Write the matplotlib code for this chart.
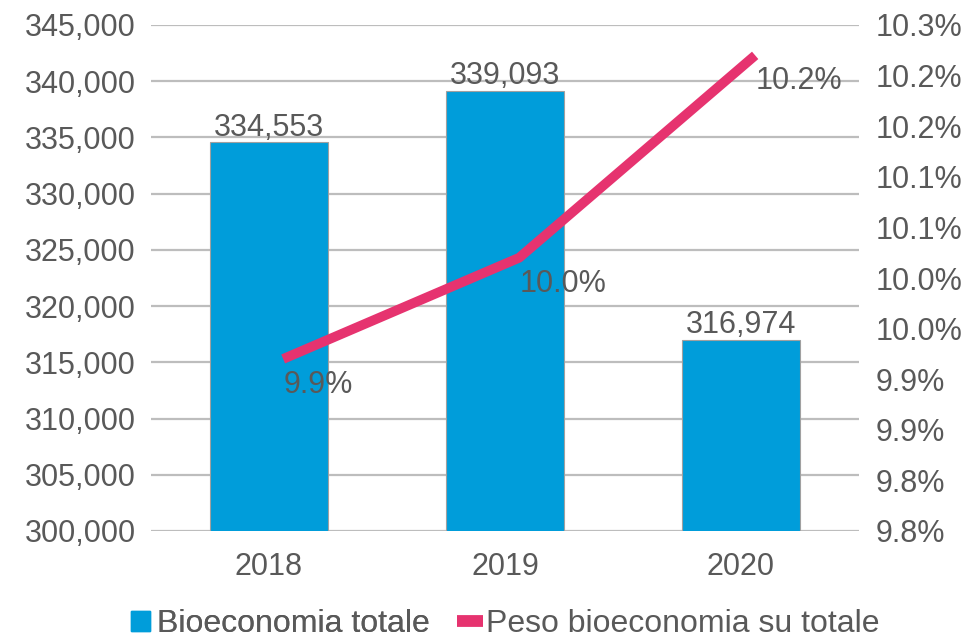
import numpy as np
import matplotlib.pyplot as plt
from matplotlib.patches import Patch
from matplotlib.lines import Line2D
from matplotlib.ticker import FuncFormatter

# ── Dati ──────────────────────────────────────────────────────────────────
anni     = ["2018", "2019", "2020"]
totale   = [334553, 339093, 316974]        # bioeconomia totale
peso     = [9.92, 10.02, 10.22]            # peso % su totale
peso_lbl = ["9.9%", "10.0%", "10.2%"]

BLU    = "#009DDA"
ROSA   = "#E6336F"
GRIGIO = "#595959"
GRID   = "#BDBDBD"
FS     = 22

plt.rcParams["font.family"] = ["Liberation Sans", "DejaVu Sans"]

fig = plt.figure(figsize=(9.66, 6.4), dpi=100)
ax = fig.add_axes([151 / 966, 1 - 531 / 640, 708 / 966, 506 / 640])
ax2 = ax.twinx()

x = np.arange(len(anni))

# ── Barre ─────────────────────────────────────────────────────────────────
bars = ax.bar(x, totale, width=0.5, color=BLU, edgecolor="#A0A0A0",
              linewidth=0.8, zorder=2)
for b, v in zip(bars, totale):
    ax.annotate(f"{v:,}", (b.get_x() + b.get_width() / 2, v),
                xytext=(0, 5), textcoords="offset points",
                ha="center", va="baseline", fontsize=FS, color=GRIGIO)

ax.set_xlim(-0.5, len(anni) - 0.5)
ax.set_ylim(300000, 345000)
ax.set_yticks(np.arange(300000, 345001, 5000))
ax.yaxis.set_major_formatter(FuncFormatter(lambda v, p: f"{v:,.0f}"))
ax.set_xticks(x)
ax.set_xticklabels(anni)
ax.grid(axis="y", color=GRID, linewidth=1.6, zorder=0)
ax.set_axisbelow(True)

# ── Linea (asse destro) ───────────────────────────────────────────────────
xl = x + 0.06
ax2.plot(xl, peso, color=ROSA, linewidth=7, solid_capstyle="butt",
         solid_joinstyle="round", zorder=3)
for xi, v, t in zip(xl, peso, peso_lbl):
    ax2.annotate(t, (xi, v), xytext=(0, -8), textcoords="offset points",
                 ha="left", va="top", fontsize=FS, color=GRIGIO)

ax2.set_ylim(9.75, 10.25)
ax2.set_yticks(np.linspace(9.75, 10.25, 11))
ax2.yaxis.set_major_formatter(FuncFormatter(lambda v, p: f"{v + 1e-9:.1f}%"))

for a in (ax, ax2):
    for s in a.spines.values():
        s.set_visible(False)
ax.tick_params(axis="y", length=0, pad=11, labelsize=FS, labelcolor=GRIGIO)
ax.tick_params(axis="x", length=0, pad=15, labelsize=FS, labelcolor=GRIGIO)
ax2.tick_params(axis="y", length=0, pad=12, labelsize=FS, labelcolor=GRIGIO)

# ── Legenda ───────────────────────────────────────────────────────────────
leg1 = fig.legend(handles=[Patch(color=BLU, label="Bioeconomia totale")],
                  loc="center left", bbox_to_anchor=(131 / 966, 1 - 624 / 640),
                  frameon=False, fontsize=23, labelcolor=GRIGIO,
                  handlelength=0.6, handleheight=0.6, handletextpad=0.2,
                  borderpad=0, borderaxespad=0)
leg2 = fig.legend(handles=[Line2D([], [], color=ROSA, linewidth=8.5,
                                  solid_capstyle="butt",
                                  label="Peso bioeconomia su totale")],
                  loc="center left", bbox_to_anchor=(457 / 966, 1 - 624 / 640),
                  frameon=False, fontsize=23, labelcolor=GRIGIO,
                  handlelength=0.82, handletextpad=0.1,
                  borderpad=0, borderaxespad=0)
fig.add_artist(leg1)

fig.savefig("out.png", dpi=100)
